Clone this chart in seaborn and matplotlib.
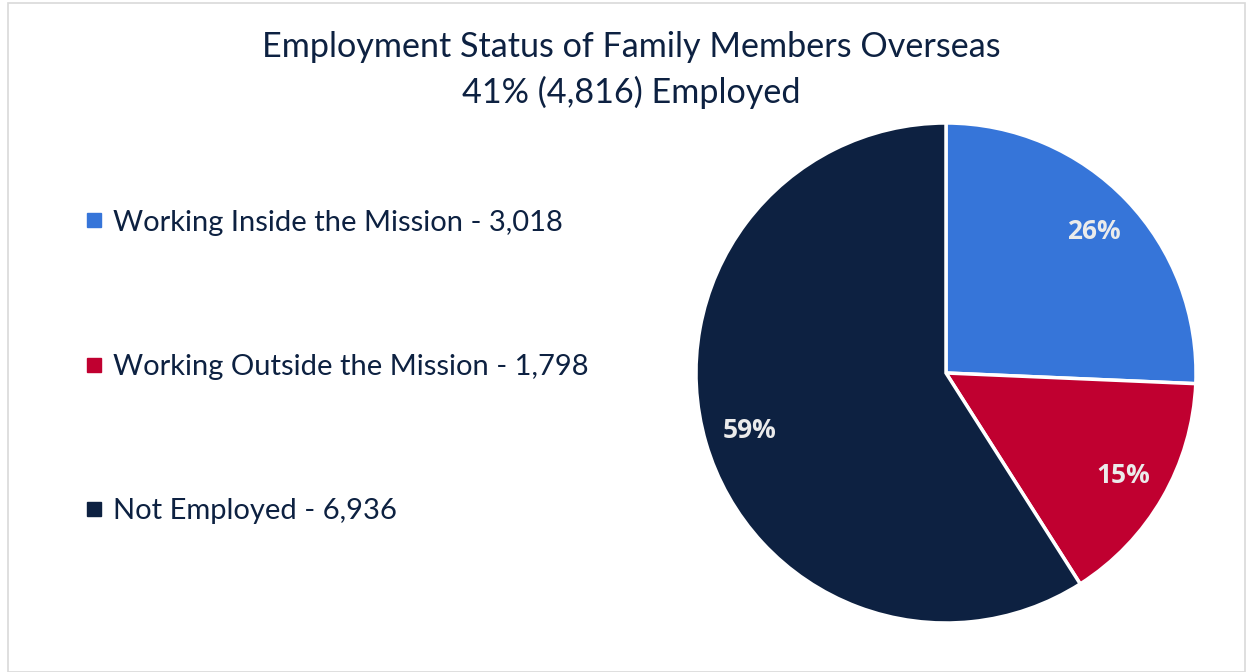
import matplotlib
matplotlib.use("Agg")
import matplotlib.pyplot as plt
from matplotlib.lines import Line2D
from matplotlib.patches import Rectangle
import numpy as np
import seaborn as sns

categories = ["Working Inside the Mission", "Working Outside the Mission", "Not Employed"]
counts = [3018, 1798, 6936]
pct_labels = ["26%", "15%", "59%"]
title_lines = ["Employment Status of Family Members Overseas", "41% (4,816) Employed"]

sns.set_theme(style="white")
plt.rcParams['font.family'] = ['Lato', 'DejaVu Sans']

palette = sns.color_palette(["#3675D9", "#C00030", "#0D2141"])
navy = "#0D2141"

fig = plt.figure(figsize=(12.53, 6.72), dpi=100)
fig.patch.set_facecolor("white")
fig.add_artist(Rectangle((8/1253, 0), 1 - 16/1253, 1 - 3/672, transform=fig.transFigure,
                         fill=False, edgecolor="#D9D9D9", linewidth=1.2))

ax = fig.add_axes([696/1253, 49/672, 500/1253, 500/672])
wedges, texts = ax.pie(counts, colors=palette, startangle=90, counterclock=False,
                       wedgeprops=dict(edgecolor="white", linewidth=2.5), radius=1)
for w, lab in zip(wedges, pct_labels):
    mid = np.deg2rad((w.theta1 + w.theta2) / 2)
    ax.text(0.82*np.cos(mid), 0.82*np.sin(mid), lab, ha="center", va="center",
            color="#EBEBEB", fontsize=19, fontweight="bold", family=["Open Sans", "DejaVu Sans"])
ax.set_xlim(-1, 1)
ax.set_ylim(-1, 1)
ax.set_aspect("equal")
ax.axis("off")

fig.text(631/1253, 1 - 47/672, title_lines[0], ha="center", va="center", color=navy, fontsize=24.6)
fig.text(631/1253, 1 - 92/672, title_lines[1], ha="center", va="center", color=navy, fontsize=24.6)

handles = [Line2D([0], [0], marker="s", linestyle="none", markersize=9.5,
                  markerfacecolor=c, markeredgecolor=c) for c in palette]
labels = [f"{c} - {n:,}" for c, n in zip(categories, counts)]
leg = fig.legend(handles, labels, loc="upper left", bbox_to_anchor=(68/1253, 1 - 198/672),
                 frameon=False, fontsize=21, labelspacing=4.06, handletextpad=0.15,
                 handlelength=1.0, borderaxespad=0)
for t in leg.get_texts():
    t.set_color(navy)

fig.savefig("out.png", dpi=100, facecolor="white")
